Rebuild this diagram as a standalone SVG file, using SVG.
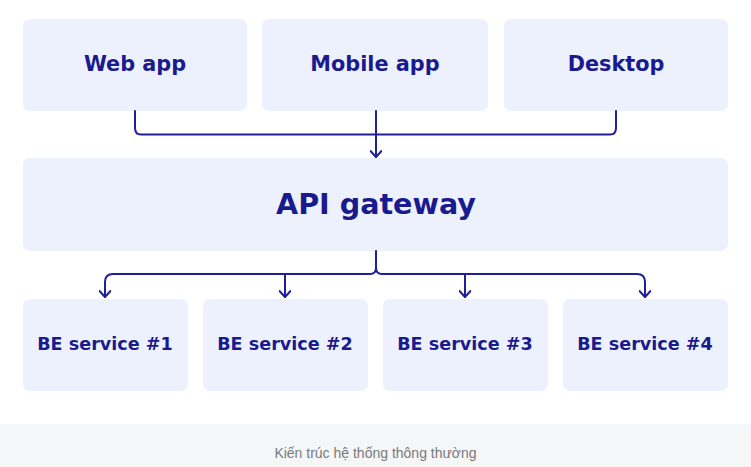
<svg xmlns="http://www.w3.org/2000/svg" width="751" height="467" viewBox="0 0 751 467">
<style>
.box{fill:#edf1fd}
.lbl{font-family:"DejaVu Sans","Open Sans",sans-serif;font-weight:bold;fill:#1a1a8f;text-anchor:middle;dominant-baseline:central}
.conn{fill:none;stroke:#1f1f99;stroke-width:2;stroke-linecap:round;stroke-linejoin:round}
.cap{font-family:"Liberation Sans",Arial,sans-serif;font-size:14px;fill:#7a7a7a;text-anchor:middle}
</style>
<defs>
<marker id="ah" viewBox="0 0 8 12" refX="7" refY="6" markerWidth="8" markerHeight="12" markerUnits="userSpaceOnUse" orient="auto">
<path d="M1,0.5 L7,6 L1,11.5" fill="none" stroke="#1f1f99" stroke-width="2" stroke-linecap="round" stroke-linejoin="round"/>
</marker>
</defs>
<rect width="751" height="467" fill="#ffffff"/>
<g id="web-app"><rect class="box" x="23" y="19" width="224" height="92" rx="7"/><text class="lbl" x="135" y="64" font-size="20.8">Web app</text></g>
<g id="mobile-app"><rect class="box" x="262" y="19" width="226" height="92" rx="7"/><text class="lbl" x="375" y="64" font-size="20.8">Mobile app</text></g>
<g id="desktop"><rect class="box" x="504" y="19" width="224" height="92" rx="7"/><text class="lbl" x="616" y="64" font-size="20.8">Desktop</text></g>
<g id="api-gateway"><rect class="box" x="23" y="158" width="705" height="93" rx="7"/><text class="lbl" x="376" y="204" font-size="28.6">API gateway</text></g>
<g id="be1"><rect class="box" x="23" y="299" width="165" height="92" rx="7"/><text class="lbl" x="105" y="344" font-size="17.6">BE service #1</text></g>
<g id="be2"><rect class="box" x="203" y="299" width="165" height="92" rx="7"/><text class="lbl" x="285" y="344" font-size="17.6">BE service #2</text></g>
<g id="be3"><rect class="box" x="383" y="299" width="165" height="92" rx="7"/><text class="lbl" x="465" y="344" font-size="17.6">BE service #3</text></g>
<g id="be4"><rect class="box" x="563" y="299" width="165" height="92" rx="7"/><text class="lbl" x="645" y="344" font-size="17.6">BE service #4</text></g>
<g id="connectors">
<path class="conn" d="M135,111 V128 Q135,134.5 141,134.5 H610 Q616,134.5 616,128 V111"/>
<path class="conn" d="M376,111 V157" marker-end="url(#ah)"/>
<path class="conn" d="M376,251 V268 Q376,274 370,274 H113 Q105,274 105,282 V297" marker-end="url(#ah)"/>
<path class="conn" d="M376,268 Q376,274 382,274 H637 Q645,274 645,282 V297" marker-end="url(#ah)"/>
<path class="conn" d="M285,274 V297" marker-end="url(#ah)"/>
<path class="conn" d="M465,274 V297" marker-end="url(#ah)"/>
</g>
<rect x="0" y="424" width="751" height="43" fill="#f5f6f8"/>
<text class="cap" x="375.5" y="458">Kiến trúc hệ thống thông thường</text>
</svg>
